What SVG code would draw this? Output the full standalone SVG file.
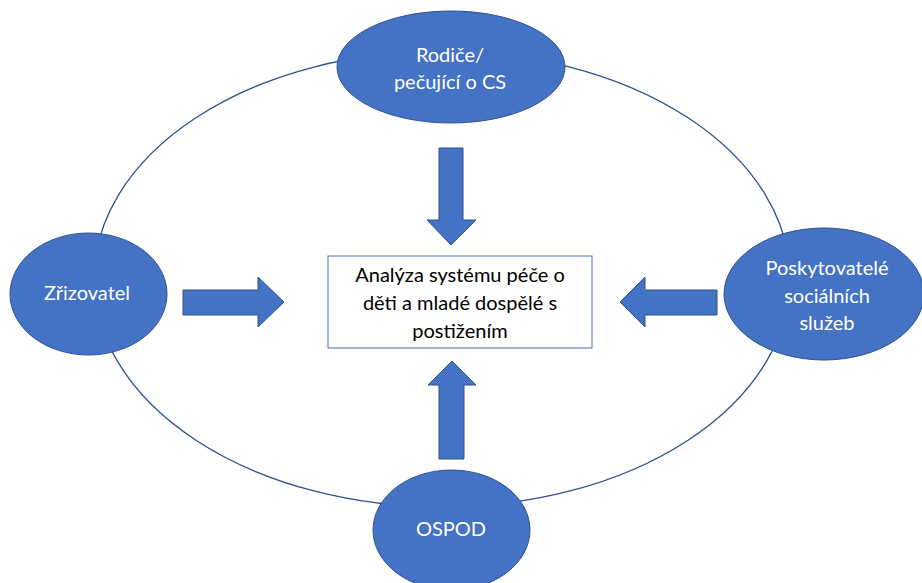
<svg xmlns="http://www.w3.org/2000/svg" width="922" height="583" viewBox="0 0 922 583">
<style>
.node{fill:#4472C4;stroke:#2F528F;stroke-width:1}
.arrow{fill:#4472C4;stroke:#2F528F;stroke-width:1}
.lbl{font-family:Lato,"Liberation Sans",sans-serif;font-size:20px;fill:#FFFFFF;text-anchor:middle}
.ctr{font-family:Lato,"Liberation Sans",sans-serif;font-size:20px;fill:#000000;text-anchor:middle}
</style>
<rect width="922" height="583" fill="#FFFFFF"/>
<g id="connectors">
<ellipse cx="442" cy="279" rx="348" ry="228" fill="none" stroke="#2F528F" stroke-width="1.3"/>
<polygon class="arrow" points="439,148 463,148 463,220 476,220 451,245 427,220 439,220"/>
<polygon class="arrow" points="439,459 464,459 464,385 476,385 452,361 428,385 439,385"/>
<polygon class="arrow" points="183,290 258,290 258,277 284,302 258,327 258,315 183,315"/>
<polygon class="arrow" points="717,290 645,290 645,277 620,302 645,327 645,315 717,315"/>
</g>
<g id="center">
<rect x="328" y="256" width="264" height="92" fill="#FFFFFF" stroke="#4472C4" stroke-width="1"/>
<text class="ctr" x="460" y="282">Analýza systému péče o</text>
<text class="ctr" x="460" y="310">děti a mladé dospělé s</text>
<text class="ctr" x="460" y="338">postižením</text>
</g>
<g id="rodice">
<ellipse class="node" cx="451" cy="67" rx="114" ry="56"/>
<text class="lbl" x="450" y="62">Rodiče/</text>
<text class="lbl" x="450" y="89">pečující o CS</text>
</g>
<g id="zrizovatel">
<ellipse class="node" cx="88.5" cy="294" rx="78.5" ry="61"/>
<text class="lbl" x="87" y="300">Zřizovatel</text>
</g>
<g id="poskytovatele">
<ellipse class="node" cx="824" cy="294" rx="100" ry="66"/>
<text class="lbl" x="827" y="275">Poskytovatelé</text>
<text class="lbl" x="827" y="303">sociálních</text>
<text class="lbl" x="827" y="330">služeb</text>
</g>
<g id="ospod">
<ellipse class="node" cx="451.5" cy="530" rx="78.5" ry="60"/>
<text class="lbl" x="451" y="536">OSPOD</text>
</g>
</svg>
